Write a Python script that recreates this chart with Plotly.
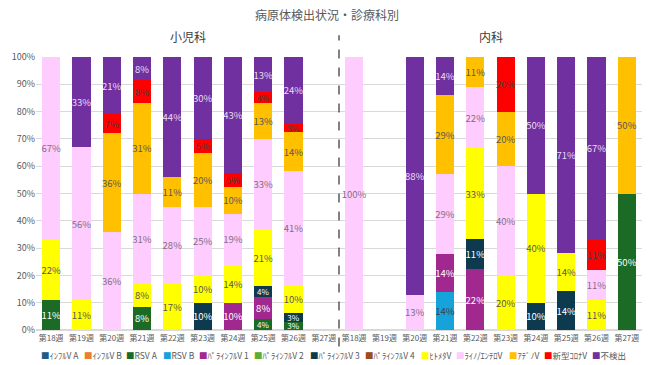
import plotly.graph_objects as go

weeks = ["第18週", "第19週", "第20週", "第21週", "第22週", "第23週", "第24週", "第25週", "第26週", "第27週"]
departments = ["小児科", "内科"]
tick_labels = weeks + weeks

series_names = ["ｲﾝﾌﾙV A", "ｲﾝﾌﾙV B", "RSV A", "RSV B", "ﾊﾟﾗｲﾝﾌﾙV 1", "ﾊﾟﾗｲﾝﾌﾙV 2",
                "ﾊﾟﾗｲﾝﾌﾙV 3", "ﾊﾟﾗｲﾝﾌﾙV 4", "ﾋﾄﾒﾀV", "ﾗｲﾉ/ｴﾝﾃﾛV", "ｱﾃﾞﾉV", "新型ｺﾛﾅV", "不検出"]

# percentages, first 10 = 小児科 第18-27週, next 10 = 内科 第18-27週
flu_a     = [0, 0, 0, 0, 0, 0, 0, 0, 0, 0,   0, 0, 0, 0, 0, 0, 0, 0, 0, 0]
flu_b     = [0, 0, 0, 0, 0, 0, 0, 0, 0, 0,   0, 0, 0, 0, 0, 0, 0, 0, 0, 0]
rsv_a     = [11, 0, 0, 8, 0, 0, 0, 4, 3, 0,  0, 0, 0, 0, 0, 0, 0, 0, 0, 50]
rsv_b     = [0, 0, 0, 0, 0, 0, 0, 0, 0, 0,   0, 0, 0, 14, 0, 0, 0, 0, 0, 0]
para1     = [0, 0, 0, 0, 0, 0, 10, 8, 0, 0,  0, 0, 0, 14, 22, 0, 0, 0, 0, 0]
para2     = [0, 0, 0, 0, 0, 0, 0, 0, 0, 0,   0, 0, 0, 0, 0, 0, 0, 0, 0, 0]
para3     = [0, 0, 0, 0, 0, 10, 0, 4, 3, 0,  0, 0, 0, 0, 11, 0, 10, 14, 0, 0]
para4     = [0, 0, 0, 0, 0, 0, 0, 0, 0, 0,   0, 0, 0, 0, 0, 0, 0, 0, 0, 0]
hmpv      = [22, 11, 0, 8, 17, 10, 14, 21, 10, 0,  0, 0, 0, 0, 33, 20, 40, 14, 11, 0]
rhino     = [67, 56, 36, 31, 28, 25, 19, 33, 41, 0,  100, 0, 13, 29, 22, 40, 0, 0, 11, 0]
adeno     = [0, 0, 36, 31, 11, 20, 10, 13, 14, 0,  0, 0, 0, 29, 11, 20, 0, 0, 0, 50]
covid     = [0, 0, 7, 8, 0, 5, 5, 4, 3, 0,   0, 0, 0, 0, 0, 20, 0, 0, 11, 0]
not_found = [0, 33, 21, 8, 44, 30, 43, 13, 24, 0,  0, 0, 88, 14, 0, 0, 50, 71, 67, 0]

series_values = [flu_a, flu_b, rsv_a, rsv_b, para1, para2, para3, para4, hmpv, rhino, adeno, covid, not_found]

colors = ["#1F5C84", "#ED7D31", "#1B6B27", "#16A3D9", "#A0288F", "#5BAE32",
          "#0E3A4F", "#9C4A1E", "#FFFF00", "#FFCCFF", "#FFC000", "#FF0000", "#7030A0"]
text_colors = ["#FFFFFF", "#FFFFFF", "#FFFFFF", "#404040", "#FFFFFF", "#FFFFFF",
               "#FFFFFF", "#FFFFFF", "#595959", "#7F6F7F", "#595959", "#404040", "#E8DDF2"]

FONT = "Noto Sans CJK JP"
x = list(range(len(tick_labels)))

fig = go.Figure()
for name, vals, col, tcol in zip(series_names, series_values, colors, text_colors):
    fig.add_trace(go.Bar(
        x=x, y=[v if v else None for v in vals], name=name,
        marker=dict(color=col, line=dict(width=0)),
        text=[f"{v}%" if v else "" for v in vals],
        textposition="inside", insidetextanchor="middle", textangle=0,
        constraintext="none",
        textfont=dict(color=tcol, size=[8 if (v and v <= 4) else 9.5 for v in vals], family=FONT),
        showlegend=False,
    ))

fig.update_layout(
    barmode="stack", barnorm="percent", bargap=0.4,
    width=650, height=365,
    margin=dict(l=36, r=8, t=57, b=35),
    paper_bgcolor="white", plot_bgcolor="white",
    font=dict(family=FONT, color="#595959"),
    xaxis=dict(tickvals=x, ticktext=tick_labels, range=[-0.5, 19.5],
               tickfont=dict(size=8, color="#595959"), showgrid=False,
               ticks="", showline=False, zeroline=False, ticklabelstandoff=2),
    yaxis=dict(range=[0, 100], dtick=10, ticksuffix="%", showgrid=True,
               gridcolor="#D9D9D9", gridwidth=1, zeroline=True, zerolinecolor="#D9D9D9",
               tickfont=dict(size=9, color="#595959"), ticks="", showline=False),
)

# title and department headings
fig.add_annotation(text="病原体検出状況・診療科別", xref="paper", yref="paper",
                   x=0.48, y=1.155, xanchor="center", yanchor="middle", showarrow=False,
                   font=dict(size=12, color="#595959", family=FONT))
for i, dept in enumerate(departments):
    fig.add_annotation(text=dept, xref="x", yref="paper", x=4.5 + 10 * i, y=1.075,
                       xanchor="center", yanchor="middle", showarrow=False,
                       font=dict(size=12, color="#404040", family=FONT))

# dashed separator
fig.add_shape(type="line", xref="x", yref="paper", x0=9.5, x1=9.5, y0=-0.06, y1=1.08,
              line=dict(color="#404040", width=1.3, dash="dash"))

# legend drawn as text, spread evenly over the width
LEG_SIZE = 8.5


def est_width(s, size):
    w = 0.0
    for ch in s:
        o = ord(ch)
        if 0xFF61 <= o <= 0xFF9F:
            w += 0.5
        elif ch == " ":
            w += 0.28
        elif o < 128:
            w += 0.62
        else:
            w += 1.0
    return w * size


left_px, right_px = 39, 624
widths = [est_width("■" + n, LEG_SIZE) for n in series_names]
gap = (right_px - left_px - sum(widths)) / (len(series_names) - 1)
pos = left_px
for name, col, w in zip(series_names, colors, widths):
    fig.add_annotation(
        text=f"<span style='color:{col}'>■</span>{name}",
        xref="paper", yref="paper", x=(pos - 36) / 606, y=(330 - 355) / 273,
        xanchor="left", yanchor="middle", showarrow=False,
        font=dict(size=LEG_SIZE, color="#595959", family=FONT))
    pos += w + gap

fig.write_html("out.html")
